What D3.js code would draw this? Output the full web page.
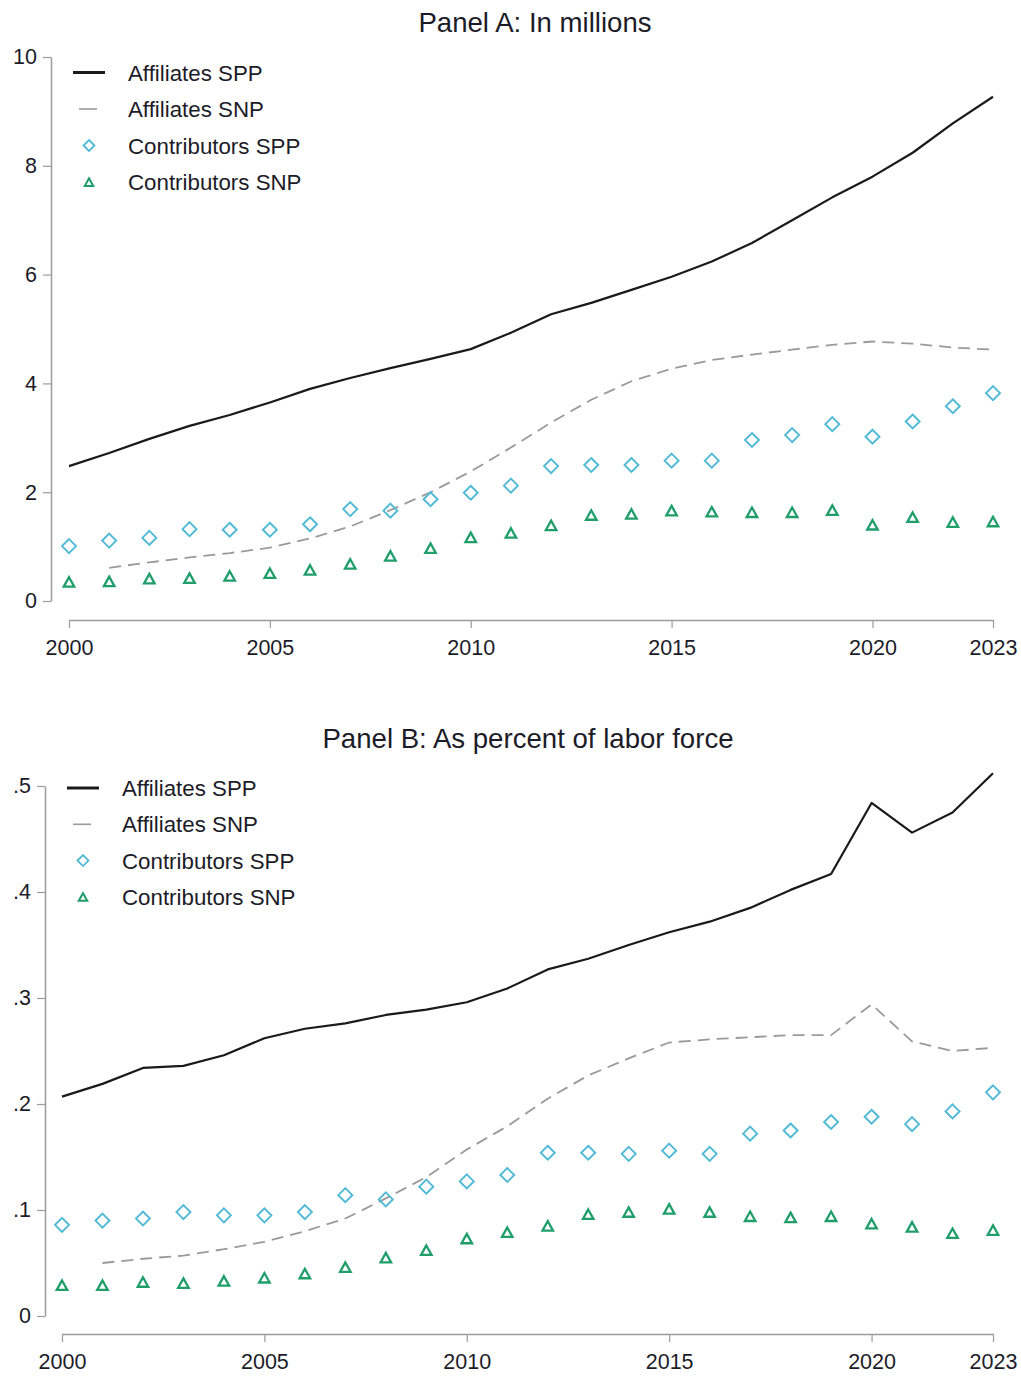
<!DOCTYPE html>
<html>
<head>
<meta charset="utf-8">
<script src="https://cdn.jsdelivr.net/npm/d3@7"></script>
<style>
  html, body { margin: 0; padding: 0; background: #fff; }
  svg { display: block; font-family: "Liberation Sans", Arial, sans-serif; }
</style>
</head>
<body>
<svg id="chart" width="1021" height="1376"></svg>
<script>
// Years covered by both panels
const years = d3.range(2000, 2024);
const xTicks = [2000, 2005, 2010, 2015, 2020, 2023];

// Panel A: in millions (SNP affiliates series starts in 2001)
const affSppMil = [2.48, 2.72, 2.98, 3.22, 3.42, 3.65, 3.90, 4.10, 4.28, 4.45, 4.63, 4.93, 5.27, 5.48, 5.72, 5.96, 6.24, 6.58, 7.00, 7.42, 7.80, 8.24, 8.78, 9.27];
const affSnpMil = [null, 0.61, 0.71, 0.80, 0.88, 0.98, 1.15, 1.37, 1.67, 2.00, 2.38, 2.82, 3.28, 3.70, 4.04, 4.27, 4.43, 4.53, 4.62, 4.71, 4.77, 4.73, 4.66, 4.62];
const conSppMil = [1.01, 1.11, 1.16, 1.32, 1.31, 1.31, 1.41, 1.69, 1.66, 1.87, 1.99, 2.12, 2.48, 2.50, 2.50, 2.58, 2.58, 2.96, 3.05, 3.25, 3.02, 3.30, 3.58, 3.82];
const conSnpMil = [0.33, 0.34, 0.39, 0.40, 0.44, 0.49, 0.55, 0.66, 0.81, 0.95, 1.15, 1.23, 1.37, 1.56, 1.58, 1.64, 1.62, 1.61, 1.61, 1.65, 1.38, 1.52, 1.43, 1.44];
const yTicksMil = [0, 2, 4, 6, 8, 10];

// Panel B: as share of the labor force
const affSppPct = [0.207, 0.219, 0.234, 0.236, 0.246, 0.262, 0.271, 0.276, 0.284, 0.289, 0.296, 0.309, 0.327, 0.337, 0.350, 0.362, 0.372, 0.385, 0.402, 0.417, 0.484, 0.456, 0.475, 0.512];
const affSnpPct = [null, 0.050, 0.054, 0.057, 0.063, 0.070, 0.080, 0.092, 0.111, 0.131, 0.157, 0.179, 0.205, 0.227, 0.243, 0.258, 0.261, 0.263, 0.265, 0.265, 0.294, 0.259, 0.250, 0.253];
const conSppPct = [0.086, 0.090, 0.092, 0.098, 0.095, 0.095, 0.098, 0.114, 0.110, 0.122, 0.127, 0.133, 0.154, 0.154, 0.153, 0.156, 0.153, 0.172, 0.175, 0.183, 0.188, 0.181, 0.193, 0.211];
const conSnpPct = [0.028, 0.028, 0.031, 0.030, 0.032, 0.035, 0.039, 0.045, 0.054, 0.061, 0.072, 0.078, 0.084, 0.095, 0.097, 0.100, 0.097, 0.093, 0.092, 0.093, 0.086, 0.083, 0.077, 0.080];
const yTicksPct = [0, 0.1, 0.2, 0.3, 0.4, 0.5];

const legendLabels = ["Affiliates SPP", "Affiliates SNP", "Contributors SPP", "Contributors SNP"];

const COL = {
  sppLine: "#1a1a1a",
  snpLine: "#9a9a9a",
  diamond: "#4fb9d6",
  triangle: "#1f9e6c",
  axis: "#9c9c9c",
  text: "#1c1c28"
};

const svg = d3.select("#chart");

const diamondPath = (r) => `M0,${-r}L${r},0L0,${r}L${-r},0Z`;
const trianglePath = (w) => {
  const h = w * 0.9;
  return `M0,${-h * 0.62}L${w / 2},${h * 0.38}L${-w / 2},${h * 0.38}Z`;
};

function drawPanel(cfg) {
  const g = svg.append("g");
  const x = d3.scaleLinear().domain([2000, 2023]).range(cfg.xRange);
  const y = d3.scaleLinear().domain(cfg.yDomain).range(cfg.yRange);

  // Title
  g.append("text")
    .attr("x", cfg.titleX).attr("y", cfg.titleY)
    .attr("text-anchor", "middle")
    .attr("font-size", 27.6).attr("fill", COL.text)
    .text(cfg.title);

  // Y axis
  const yAxis = d3.axisLeft(y).tickValues(cfg.yTicks).tickSize(8).tickSizeOuter(0).tickPadding(6)
    .tickFormat(cfg.yFormat);
  const ya = g.append("g").attr("transform", `translate(${cfg.yAxisX},0)`).call(yAxis);
  ya.select(".domain").attr("stroke", COL.axis).attr("stroke-width", 1.5);
  ya.selectAll(".tick line").attr("stroke", COL.axis).attr("stroke-width", 1.2);
  ya.selectAll(".tick text").attr("font-size", 21.5).attr("fill", COL.text)
    .attr("font-family", "'Liberation Sans', Arial, sans-serif");

  // X axis
  const xAxis = d3.axisBottom(x).tickValues(xTicks).tickSize(8).tickSizeOuter(0).tickPadding(12)
    .tickFormat(d3.format("d"));
  const xa = g.append("g").attr("transform", `translate(0,${cfg.xAxisY})`).call(xAxis);
  xa.select(".domain").attr("stroke", COL.axis).attr("stroke-width", 1.5);
  xa.selectAll(".tick line").attr("stroke", COL.axis).attr("stroke-width", 1.2);
  xa.selectAll(".tick text").attr("font-size", 21.5).attr("fill", COL.text)
    .attr("font-family", "'Liberation Sans', Arial, sans-serif");

  const pts = (arr) => years.map((yr, i) => ({ yr, v: arr[i] }));
  const line = d3.line().defined(d => d.v != null).x(d => x(d.yr)).y(d => y(d.v));

  // Affiliates SNP (dashed grey)
  g.append("path").datum(pts(cfg.affSnp))
    .attr("d", line).attr("fill", "none")
    .attr("stroke", COL.snpLine).attr("stroke-width", 1.8)
    .attr("stroke-dasharray", "12,7");

  // Affiliates SPP (solid black)
  g.append("path").datum(pts(cfg.affSpp))
    .attr("d", line).attr("fill", "none")
    .attr("stroke", COL.sppLine).attr("stroke-width", 2.2)
    .attr("stroke-linejoin", "round");

  // Contributors SPP (hollow diamonds)
  g.append("g").selectAll("path").data(pts(cfg.conSpp)).join("path")
    .attr("transform", d => `translate(${x(d.yr)},${y(d.v)})`)
    .attr("d", diamondPath(7))
    .attr("fill", "none").attr("stroke", COL.diamond).attr("stroke-width", 1.9);

  // Contributors SNP (hollow triangles)
  g.append("g").selectAll("path").data(pts(cfg.conSnp)).join("path")
    .attr("transform", d => `translate(${x(d.yr)},${y(d.v)})`)
    .attr("d", trianglePath(10.5))
    .attr("fill", "none").attr("stroke", COL.triangle).attr("stroke-width", 2.3)
    .attr("stroke-linejoin", "miter");

  // Legend
  const lg = g.append("g");
  const L = cfg.legend;
  legendLabels.forEach((lab, i) => {
    const cy = L.y0 + i * L.dy;
    if (i === 0) {
      lg.append("line").attr("x1", L.symX - 16).attr("x2", L.symX + 16)
        .attr("y1", cy).attr("y2", cy)
        .attr("stroke", COL.sppLine).attr("stroke-width", 3);
    } else if (i === 1) {
      lg.append("line").attr("x1", L.symX - 10).attr("x2", L.symX + 8)
        .attr("y1", cy).attr("y2", cy)
        .attr("stroke", COL.snpLine).attr("stroke-width", 1.6);
    } else if (i === 2) {
      lg.append("path").attr("transform", `translate(${L.symX},${cy})`)
        .attr("d", diamondPath(5.5))
        .attr("fill", "none").attr("stroke", COL.diamond).attr("stroke-width", 1.8);
    } else {
      lg.append("path").attr("transform", `translate(${L.symX},${cy + 1})`)
        .attr("d", trianglePath(8.5))
        .attr("fill", "none").attr("stroke", COL.triangle).attr("stroke-width", 2);
    }
    lg.append("text").attr("x", L.textX).attr("y", cy + 8)
      .attr("font-size", 22.3).attr("fill", COL.text)
      .text(lab);
  });
}

drawPanel({
  title: "Panel A: In millions",
  titleX: 535, titleY: 32,
  xRange: [69, 993], xAxisY: 620,
  yDomain: [0, 10], yRange: [601, 57], yAxisX: 51,
  yTicks: yTicksMil, yFormat: d3.format("d"),
  affSpp: affSppMil, affSnp: affSnpMil, conSpp: conSppMil, conSnp: conSnpMil,
  legend: { symX: 89, textX: 128, y0: 72.5, dy: 36.5 }
});

drawPanel({
  title: "Panel B: As percent of labor force",
  titleX: 528, titleY: 748,
  xRange: [62, 993], xAxisY: 1334,
  yDomain: [0, 0.5], yRange: [1316, 786], yAxisX: 45,
  yTicks: yTicksPct, yFormat: d => d === 0 ? "0" : d3.format(".1f")(d).replace(/^0/, ""),
  affSpp: affSppPct, affSnp: affSnpPct, conSpp: conSppPct, conSnp: conSnpPct,
  legend: { symX: 83, textX: 122, y0: 788, dy: 36.3 }
});
</script>
</body>
</html>
